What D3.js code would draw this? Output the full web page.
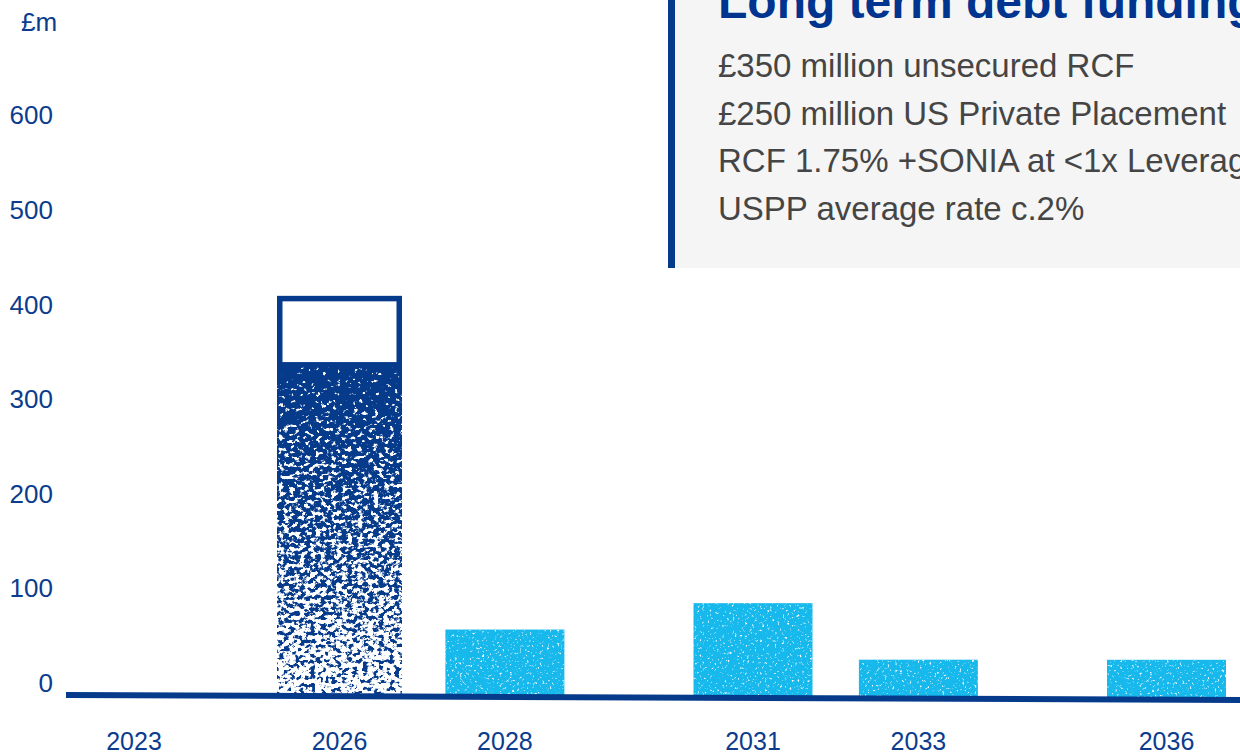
<!DOCTYPE html><html><head><meta charset="UTF-8"><script src="https://d3js.org/d3.v7.min.js"></script><style>
            body { margin: 0; background: #fff; }
            svg { display: block; font-family: Arial, "Liberation Sans", sans-serif; }
        </style></head><body><div id="chart"></div><script>
            const years = [2023, 2026, 2028, 2031, 2033, 2036];
            const rcfDrawn = [0, 350, 0, 0, 0, 0];
            const rcfOutline = [0, 70, 0, 0, 0, 0];
            const usppValues = [0, 0, 68, 97, 38, 39];
            const yTicks = [0, 100, 200, 300, 400, 500, 600];
            const unitLabel = '£m';
            const boxTitle = 'Long term debt funding';
            const boxLines = ['£350 million unsecured RCF', '£250 million US Private Placement', 'RCF 1.75% +SONIA at <1x Leverage', 'USPP average rate c.2%'];

            const fullWidth = 1240;
            const fullHeight = 753;
            const navy = '#063b8c';
            const sky = '#17b9ec';
            const barW = 119;

            const svg = d3.select('#chart')
                .append('svg')
                .attr('width', fullWidth)
                .attr('height', fullHeight);

            const defs = svg.append('defs');
            // vertical fade used by the RCF bar grain
            const grad = defs.append('linearGradient')
                .attr('id', 'fade')
                .attr('x1', 0).attr('y1', 0).attr('x2', 0).attr('y2', 1);
            [[0, 0.74], [0.3, 0.59], [0.7, 0.5], [1, 0.42]].forEach(s => {
                grad.append('stop').attr('offset', s[0]).attr('stop-color', navy).attr('stop-opacity', s[1]);
            });

            defs.append('filter').attr('id', 'grain')
                .attr('x', 0).attr('y', 0).attr('width', 1).attr('height', 1)
                .attr('color-interpolation-filters', 'sRGB')
                .html(`<feTurbulence type="fractalNoise" baseFrequency="0.19 0.25" numOctaves="3" seed="4" result="noise"/>
                    <feColorMatrix in="noise" type="matrix" values="0 0 0 0 0 0 0 0 0 0 0 0 0 0 0 1 0 0 0 0" result="na"/>
                    <feComposite in="SourceAlpha" in2="na" operator="arithmetic" k1="0" k2="1" k3="1" k4="-0.5" result="sum"/>
                    <feComponentTransfer in="sum" result="mask"><feFuncA type="linear" slope="10" intercept="-4.5"/></feComponentTransfer>
                    <feFlood flood-color="${navy}"/>
                    <feComposite in2="mask" operator="in"/>`);

            defs.append('filter').attr('id', 'speck')
                .attr('x', 0).attr('y', 0).attr('width', 1).attr('height', 1)
                .attr('color-interpolation-filters', 'sRGB')
                .html(`<feTurbulence type="fractalNoise" baseFrequency="0.4" numOctaves="2" seed="9" result="noise"/>
                    <feColorMatrix in="noise" type="matrix" values="0 0 0 0 1 0 0 0 0 1 0 0 0 0 1 1 0 0 0 0" result="na"/>
                    <feComponentTransfer in="na" result="dots"><feFuncA type="linear" slope="5" intercept="-3.05"/></feComponentTransfer>
                    <feComposite in="dots" in2="SourceAlpha" operator="in" result="clip"/>
                    <feMerge><feMergeNode in="SourceGraphic"/><feMergeNode in="clip"/></feMerge>`);

            const x = d3.scaleLinear().domain([2023, 2026, 2036]).range([134, 339.5, 1166.5]);
            const y = d3.scaleLinear().domain([0, 600]).range([693, 125.4]);
            const baseTop = d3.scaleLinear().domain([66, 1240]).range([692, 697]);
            const h = v => y(0) - y(v);

            const rows = years.map((yr, i) => ({year: yr, rcf: rcfDrawn[i], extra: rcfOutline[i], uspp: usppValues[i]}));

            // info box
            svg.append('rect').attr('x', 668).attr('y', 0).attr('width', 572).attr('height', 268).attr('fill', '#f5f5f5');
            svg.append('rect').attr('x', 668).attr('y', 0).attr('width', 7).attr('height', 268).attr('fill', navy);
            svg.append('text')
                .attr('x', 718).attr('y', 17.5)
                .attr('font-size', 48).attr('font-weight', 'bold')
                .attr('fill', '#00348f')
                .text(boxTitle);
            svg.selectAll('.line')
                .data(boxLines)
                .enter().append('text')
                .attr('class', 'line')
                .attr('x', 718)
                .attr('y', (d, i) => 77 + i * 47.7)
                .attr('font-size', 33)
                .attr('fill', '#454545')
                .text(d => d);

            // y labels
            svg.selectAll('.ytick')
                .data(yTicks)
                .enter().append('text')
                .attr('class', 'ytick')
                .attr('x', 53)
                .attr('y', d => y(d) - 1)
                .attr('text-anchor', 'end')
                .attr('font-size', 26)
                .attr('fill', '#0b3c8e')
                .text(d => d);
            svg.append('text')
                .attr('x', 21).attr('y', 31)
                .attr('font-size', 26)
                .attr('fill', '#0b3c8e')
                .text(unitLabel);

            // RCF bar
            const rcfRows = rows.filter(d => d.rcf > 0);
            const rcfW = barW + 6;
            svg.selectAll('.rcf')
                .data(rcfRows)
                .enter().append('rect')
                .attr('class', 'rcf')
                .attr('x', d => x(d.year) - rcfW / 2)
                .attr('y', d => baseTop(x(d.year)) - h(d.rcf))
                .attr('width', rcfW)
                .attr('height', d => h(d.rcf) + 2)
                .attr('fill', 'url(#fade)')
                .attr('filter', 'url(#grain)');
            const sw = 5.5;
            svg.selectAll('.rcf-out')
                .data(rcfRows.filter(d => d.extra > 0))
                .enter().append('rect')
                .attr('class', 'rcf-out')
                .attr('x', d => x(d.year) - rcfW / 2 + sw / 2)
                .attr('y', d => baseTop(x(d.year)) - h(d.rcf + d.extra) + sw / 2)
                .attr('width', rcfW - sw)
                .attr('height', d => h(d.extra))
                .attr('fill', '#fff')
                .attr('stroke', navy)
                .attr('stroke-width', sw);

            // USPP bars
            svg.selectAll('.uspp')
                .data(rows.filter(d => d.uspp > 0))
                .enter().append('rect')
                .attr('class', 'uspp')
                .attr('x', d => x(d.year) - barW / 2)
                .attr('y', d => baseTop(x(d.year)) - h(d.uspp))
                .attr('width', barW)
                .attr('height', d => h(d.uspp) + 2)
                .attr('fill', sky)
                .attr('filter', 'url(#speck)');

            // baseline
            svg.append('line')
                .attr('x1', 66).attr('y1', baseTop(66) + 3)
                .attr('x2', 1240).attr('y2', baseTop(1240) + 3)
                .attr('stroke', navy)
                .attr('stroke-width', 6);

            // x labels
            svg.selectAll('.xtick')
                .data(years)
                .enter().append('text')
                .attr('class', 'xtick')
                .attr('x', d => x(d))
                .attr('y', 750)
                .attr('text-anchor', 'middle')
                .attr('font-size', 25)
                .attr('fill', '#0b3c8e')
                .text(d => d);
        </script></body></html>
